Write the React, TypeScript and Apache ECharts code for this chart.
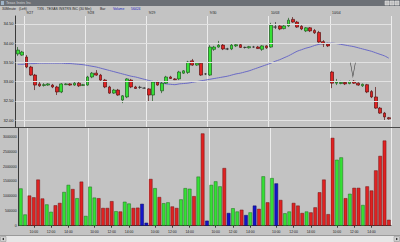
import React, { useEffect, useRef } from 'react';
import * as echarts from 'echarts';

// ---- data ----
const dayLabels = ['9/26', '9/27', '9/28', '9/29', '9/30', '10/03', '10/04'];
const sessionTimes = ['9:30', '10:00', '10:30', '11:00', '11:30', '12:00', '12:30', '13:00', '13:30', '14:00', '14:30', '15:00', '15:30', '16:00'];
const firstDayBars = 2;
const timeTicks = ['10:00', '12:00', '14:00'];
const priceTicks = [32.0, 32.5, 33.0, 33.5, 34.0, 34.5];
const volumeTicks = [0, 500000, 1000000, 1500000, 2000000, 2500000, 3000000];

// [open, close, low, high]
const ohlc: number[][] = [
  [33.72, 33.82, 33.67, 33.90], [33.69, 33.77, 33.67, 33.80],
  [33.64, 33.38, 33.35, 33.69], [33.38, 33.17, 33.15, 33.41], [33.17, 32.91, 32.78, 33.20], [32.94, 32.89, 32.86, 32.99],
  [32.90, 32.92, 32.87, 32.96], [32.91, 32.94, 32.89, 32.96], [32.91, 32.86, 32.83, 32.94], [32.86, 32.73, 32.65, 32.89],
  [32.73, 32.94, 32.70, 32.96], [32.92, 32.94, 32.91, 32.96], [32.94, 32.91, 32.89, 32.96], [32.91, 32.96, 32.89, 32.99],
  [32.96, 32.89, 32.86, 32.99], [32.90, 32.92, 32.89, 32.94],
  [32.91, 33.12, 32.89, 33.15], [33.12, 33.22, 33.09, 33.25], [33.22, 33.17, 33.15, 33.30], [33.17, 33.04, 33.02, 33.20],
  [33.04, 32.86, 32.83, 33.07], [32.86, 32.70, 32.68, 32.89], [32.70, 32.78, 32.68, 32.81], [32.78, 32.65, 32.63, 32.81],
  [32.52, 32.63, 32.44, 32.65], [32.60, 33.07, 32.57, 33.09], [33.04, 32.86, 32.83, 33.07], [32.86, 32.82, 32.81, 32.89],
  [32.85, 32.85, 32.81, 32.89], [32.83, 32.83, 32.82, 32.85],
  [32.81, 32.65, 32.47, 32.83], [32.65, 32.99, 32.47, 33.02], [32.99, 32.91, 32.89, 33.02], [32.76, 32.96, 32.70, 32.99],
  [32.96, 33.12, 32.94, 33.15], [33.12, 33.08, 33.07, 33.15], [33.07, 33.05, 33.04, 33.09], [33.07, 33.25, 33.04, 33.28],
  [33.22, 33.28, 33.20, 33.30], [33.24, 33.51, 33.20, 33.54], [33.54, 33.43, 33.41, 33.59], [33.43, 33.48, 33.41, 33.51],
  [33.48, 33.17, 33.15, 33.51], [33.20, 33.20, 33.17, 33.22],
  [33.17, 33.90, 33.15, 33.95], [33.84, 33.90, 33.80, 33.93], [33.90, 33.95, 33.88, 34.06], [33.95, 33.85, 33.82, 33.98],
  [33.85, 33.85, 33.82, 33.88], [33.85, 33.95, 33.82, 33.98], [33.93, 33.96, 33.90, 33.98], [33.96, 33.89, 33.88, 33.98],
  [33.89, 33.89, 33.86, 33.91], [33.88, 33.91, 33.86, 33.93], [33.90, 33.90, 33.88, 33.93], [33.90, 33.86, 33.85, 33.93],
  [33.84, 33.93, 33.80, 33.95], [33.93, 33.88, 33.85, 33.95],
  [33.90, 34.47, 33.88, 34.53], [34.42, 34.42, 34.37, 34.55], [34.45, 34.37, 34.34, 34.47], [34.38, 34.45, 34.36, 34.50],
  [34.45, 34.60, 34.42, 34.66], [34.62, 34.55, 34.53, 34.68], [34.55, 34.42, 34.40, 34.58], [34.44, 34.37, 34.34, 34.47],
  [34.32, 34.40, 34.29, 34.42], [34.40, 34.32, 34.29, 34.42], [34.33, 34.27, 34.24, 34.37], [34.28, 34.03, 34.01, 34.32],
  [34.04, 33.98, 33.90, 34.08], [33.98, 33.93, 33.90, 34.01],
  [33.25, 32.96, 32.83, 33.28], [32.96, 32.99, 32.91, 33.07], [32.95, 32.98, 32.93, 33.02], [32.98, 32.94, 32.91, 33.01],
  [32.95, 33.00, 32.93, 33.03], [33.01, 32.96, 32.94, 33.04], [32.96, 32.91, 32.89, 32.98], [32.89, 32.93, 32.86, 32.95],
  [32.92, 32.73, 32.70, 32.94], [32.74, 32.60, 32.57, 32.78], [32.60, 32.31, 32.29, 32.86], [32.31, 32.18, 32.16, 32.34],
  [32.18, 32.08, 32.00, 32.21], [32.06, 32.03, 32.01, 32.08],
];

const volumes = [
  1260000, 380000, 1020000, 960000, 1560000, 920000, 720000, 470000, 690000, 770000,
  1140000, 1380000, 1240000, 930000, 1490000, 330000, 1320000, 950000, 930000, 600000,
  600000, 830000, 490000, 480000, 810000, 750000, 600000, 610000, 740000, 100000,
  1580000, 1270000, 970000, 760000, 790000, 650000, 600000, 890000, 1270000, 1250000,
  1000000, 1660000, 3120000, 170000, 1380000, 1500000, 1330000, 1950000, 430000, 590000,
  480000, 540000, 360000, 450000, 680000, 570000, 1670000, 790000, 1610000, 1430000,
  870000, 420000, 480000, 770000, 680000, 430000, 480000, 450000, 620000, 1130000,
  1560000, 390000, 2970000, 2230000, 2310000, 930000, 1080000, 1280000, 1280000, 700000,
  1330000, 1190000, 1870000, 2360000, 2880000, 200000,
];

const movingAverage = [
  33.45, 33.45, 33.46, 33.47, 33.47, 33.48, 33.48, 33.48, 33.48, 33.48,
  33.48, 33.47, 33.47, 33.46, 33.45, 33.44, 33.42, 33.40, 33.38, 33.35,
  33.32, 33.29, 33.26, 33.23, 33.20, 33.17, 33.14, 33.12, 33.09, 33.06,
  33.03, 33.00, 32.98, 32.96, 32.94, 32.93, 32.92, 32.94, 32.95, 32.96,
  32.98, 33.00, 33.02, 33.04, 33.06, 33.08, 33.10, 33.12, 33.14, 33.17,
  33.20, 33.22, 33.25, 33.28, 33.32, 33.36, 33.40, 33.44, 33.48, 33.53,
  33.57, 33.62, 33.67, 33.73, 33.79, 33.83, 33.87, 33.90, 33.94, 33.97,
  33.99, 34.00, 34.00, 33.99, 33.97, 33.95, 33.93, 33.91, 33.88, 33.85,
  33.82, 33.79, 33.75, 33.71, 33.67, 33.61,
];

const annotationBar = 77;
const annotationPrice = 33.13;

// ---- categories ----
const categories: string[] = [];
const categoryTimes: string[] = [];
dayLabels.forEach((d, di) => {
  const times = di === 0 ? sessionTimes.slice(sessionTimes.length - firstDayBars) : sessionTimes;
  times.forEach((t) => {
    categories.push(d + ' ' + t);
    categoryTimes.push(t);
  });
});

const FONT = 'Liberation Sans';
const BG = '#c3c3c3';

export default function App() {
  const ref = useRef<HTMLDivElement>(null);
  useEffect(() => {
    document.body.style.margin = '0';
    const chart = echarts.init(ref.current as HTMLDivElement, null, { renderer: 'svg' });
    const isDayStart = (i: number) => categoryTimes[i] === '9:30';
    const isTimeTick = (i: number) => timeTicks.indexOf(categoryTimes[i]) >= 0;

    const volColor = (i: number) => {
      const [o, c] = ohlc[i];
      if (c > o) return ['#35e035', '#1f6a1f'];
      if (c < o) return ['#e02222', '#6a1414'];
      return ['#1414c8', '#0a0a60'];
    };

    const splitLine = { show: true, interval: (i: number) => isDayStart(i), lineStyle: { color: '#ececec', width: 1 } };

    const option: any = {
      animation: false,
      backgroundColor: BG,
      textStyle: { fontFamily: FONT },
      grid: [
        { left: 15.5, width: 375.5, top: 16, height: 111 },
        { left: 15.5, width: 375.5, top: 128, height: 97.7 },
      ],
      xAxis: [
        {
          type: 'category', gridIndex: 0, data: categories, position: 'top', boundaryGap: true,
          axisLine: { show: false }, axisTick: { show: false },
          axisLabel: {
            interval: (i: number) => isDayStart(i), formatter: (v: string) => v.split(' ')[0],
            fontSize: 3.4, color: '#1a1a1a', margin: 1.5, align: 'left', fontFamily: FONT,
          },
          splitLine,
        },
        {
          type: 'category', gridIndex: 1, data: categories, position: 'bottom', boundaryGap: true,
          axisLine: { show: true, lineStyle: { color: '#3a3a3a', width: 1 } },
          axisTick: { show: true, interval: (i: number) => isTimeTick(i), alignWithLabel: true, length: 2, lineStyle: { color: '#3a3a3a' } },
          axisLabel: {
            interval: (i: number) => isTimeTick(i), formatter: (v: string) => v.split(' ')[1],
            fontSize: 3.4, color: '#1a1a1a', margin: 4.5, fontFamily: FONT,
          },
          splitLine,
        },
      ],
      yAxis: [
        {
          type: 'value', gridIndex: 0, min: 31.818, max: 34.708,
          axisLine: { show: true, lineStyle: { color: '#3a3a3a', width: 1 } }, axisTick: { show: false },
          axisLabel: { customValues: priceTicks, formatter: (v: number) => v.toFixed(2), fontSize: 4, color: '#1a1a1a', margin: 2, fontFamily: FONT },
          splitLine: { show: false },
        },
        {
          type: 'value', gridIndex: 1, min: 0, max: 3304000,
          axisLine: { show: true, lineStyle: { color: '#3a3a3a', width: 1 } }, axisTick: { show: false },
          axisLabel: { customValues: volumeTicks, formatter: (v: number) => String(v), fontSize: 3.5, color: '#1a1a1a', margin: 2, fontFamily: FONT },
          splitLine: { show: false },
        },
      ],
      series: [
        {
          type: 'line', xAxisIndex: 0, yAxisIndex: 0, data: [], z: 0, silent: true,
          markLine: {
            silent: true, symbol: 'none', label: { show: false },
            lineStyle: { color: '#e2e2e2', width: 1, type: 'solid' },
            data: priceTicks.map((v) => ({ yAxis: v })),
          },
        },
        {
          type: 'line', xAxisIndex: 0, yAxisIndex: 0, data: movingAverage, symbol: 'none', smooth: 0.3,
          lineStyle: { color: '#6a6ac6', width: 1 }, z: 2, silent: true,
        },
        {
          type: 'candlestick', xAxisIndex: 0, yAxisIndex: 0, data: ohlc, barWidth: 3.2, z: 3,
          itemStyle: {
            color: '#35e035', color0: '#e02222', borderColor: '#1f5a1f', borderColor0: '#5a1414',
            borderColorDoji: '#303030', borderWidth: 0.7,
          },
          markPoint: {
            silent: true,
            symbol: 'path://M0,0L3,14L6,0', symbolSize: [5, 14], symbolOffset: [-1, -7],
            itemStyle: { color: 'none', borderColor: '#3a3a3a', borderWidth: 0.8 },
            label: { show: false },
            data: [{ coord: [categories[annotationBar], annotationPrice] }],
          },
        },
        {
          type: 'bar', xAxisIndex: 1, yAxisIndex: 1, barWidth: 3.6,
          data: volumes.map((v, i) => ({
            value: v,
            itemStyle: { color: volColor(i)[0], borderColor: volColor(i)[1], borderWidth: 0.5 },
          })),
        },
      ],
      graphic: [
        { type: 'rect', shape: { x: 0, y: 0, width: 400, height: 6 }, style: { fill: '#6c7076' }, silent: true },
        { type: 'rect', shape: { x: 1, y: 1, width: 3, height: 4 }, style: { fill: '#9fb4c8' }, silent: true },
        { type: 'text', x: 6, y: 3, style: { text: 'Texas Instrs Inc', fontSize: 3.6, fill: '#d6d6d6', fontFamily: FONT, verticalAlign: 'middle' }, silent: true },
        { type: 'rect', shape: { x: 385, y: 1, width: 4, height: 4 }, style: { fill: '#c0c0c0', stroke: '#eeeeee', lineWidth: 0.5 }, silent: true },
        { type: 'rect', shape: { x: 390, y: 1, width: 4, height: 4 }, style: { fill: '#c0c0c0', stroke: '#eeeeee', lineWidth: 0.5 }, silent: true },
        { type: 'rect', shape: { x: 395, y: 1, width: 4, height: 4 }, style: { fill: '#c0c0c0', stroke: '#eeeeee', lineWidth: 0.5 }, silent: true },
        { type: 'text', x: 2, y: 8.7, style: { text: '30Minute', fontSize: 3.4, fill: '#1a1a1a', fontFamily: FONT, verticalAlign: 'middle' }, silent: true },
        { type: 'text', x: 19, y: 8.7, style: { text: '(Left)', fontSize: 3.4, fill: '#1a1a1a', fontFamily: FONT, verticalAlign: 'middle' }, silent: true },
        { type: 'text', x: 37, y: 8.7, style: { text: 'TXN - TEXAS INSTRS INC (30 Min)', fontSize: 3.4, fill: '#1a1a1a', fontFamily: FONT, verticalAlign: 'middle' }, silent: true },
        { type: 'text', x: 100, y: 8.7, style: { text: 'Bar', fontSize: 3.4, fill: '#1a1a1a', fontFamily: FONT, verticalAlign: 'middle' }, silent: true },
        { type: 'text', x: 113, y: 8.7, style: { text: 'Volume', fontSize: 3.4, fill: '#2020c0', fontFamily: FONT, verticalAlign: 'middle' }, silent: true },
        { type: 'text', x: 131, y: 8.7, style: { text: '56424', fontSize: 3.4, fill: '#2020c0', fontFamily: FONT, verticalAlign: 'middle' }, silent: true },
        { type: 'line', shape: { x1: 0, y1: 127.5, x2: 400, y2: 127.5 }, style: { stroke: '#4a4a4a', lineWidth: 1 }, silent: true },
        { type: 'line', shape: { x1: 0, y1: 235.5, x2: 400, y2: 235.5 }, style: { stroke: '#9a9a9a', lineWidth: 1 }, silent: true },
        { type: 'rect', shape: { x: 0, y: 236, width: 400, height: 6 }, style: { fill: '#e6e6e6' }, silent: true },
        { type: 'rect', shape: { x: 0.5, y: 236.5, width: 5.5, height: 5 }, style: { fill: '#d2d2d2', stroke: '#8a8a8a', lineWidth: 0.5 }, silent: true },
        { type: 'polygon', shape: { points: [[2, 239], [4, 237.8], [4, 240.2]] }, style: { fill: '#222' }, silent: true },
        { type: 'rect', shape: { x: 394, y: 236.5, width: 5.5, height: 5 }, style: { fill: '#d2d2d2', stroke: '#8a8a8a', lineWidth: 0.5 }, silent: true },
        { type: 'polygon', shape: { points: [[398, 239], [396, 237.8], [396, 240.2]] }, style: { fill: '#222' }, silent: true },
      ],
    };
    chart.setOption(option);
    return () => chart.dispose();
  }, []);
  return <div ref={ref} style={{ width: 400, height: 242 }} />;
}
